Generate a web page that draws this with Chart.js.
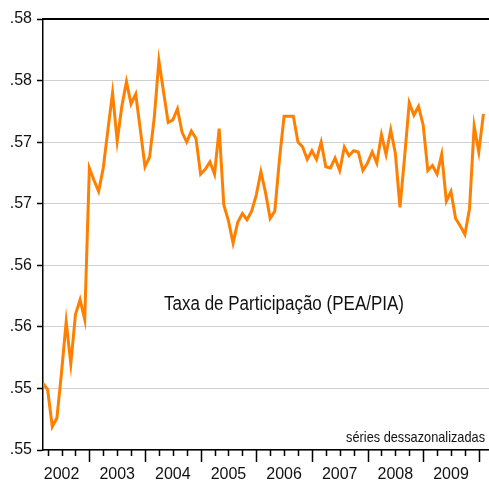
<!DOCTYPE html>
<html>
<head>
<meta charset="utf-8">
<script src="https://cdn.jsdelivr.net/npm/chart.js@4/dist/chart.umd.min.js"></script>
<style>
  html, body { margin: 0; padding: 0; background: #fff; }
  #wrap { width: 489px; height: 483px; }
</style>
</head>
<body>
<div id="wrap"><canvas id="chart"></canvas></div>
<script>
'use strict'

// monthly series, Mar 2002 .. Feb 2010 (seasonally adjusted)
const startYear = 2002
const startMonth = 3
const yearLabels = ['2002', '2003', '2004', '2005', '2006', '2007', '2008', '2009']
const taxa = [
  0.5504, 0.5499, 0.5469, 0.5476, 0.5513, 0.5554, 0.5520, 0.5560, 0.5572, 0.5556,
  0.5679, 0.5669, 0.5660, 0.5679, 0.5710, 0.5740, 0.5701, 0.5729, 0.5749, 0.5731,
  0.5739, 0.5710, 0.5680, 0.5688, 0.5720, 0.5766, 0.5741, 0.5716, 0.5718, 0.5727,
  0.5708, 0.5700, 0.5709, 0.5703, 0.5674, 0.5678, 0.5684, 0.5674, 0.5711, 0.5649,
  0.5636, 0.5618, 0.5635, 0.5642, 0.5637, 0.5644, 0.5657, 0.5676, 0.5659, 0.5638,
  0.5644, 0.5686, 0.5721, 0.5721, 0.5721, 0.5700, 0.5696, 0.5686, 0.5693, 0.5686,
  0.5700, 0.5680, 0.5679, 0.5687, 0.5677, 0.5696, 0.5689, 0.5693, 0.5692, 0.5677,
  0.5683, 0.5692, 0.5683, 0.5706, 0.5690, 0.5710, 0.5691, 0.5647, 0.5688, 0.5732,
  0.5722, 0.5729, 0.5714, 0.5677, 0.5681, 0.5674, 0.5690, 0.5652, 0.5660, 0.5638,
  0.5632, 0.5625, 0.5646, 0.5713, 0.5692, 0.5723
]
const yTickValues = [0.545, 0.550, 0.555, 0.560, 0.565, 0.570, 0.575, 0.580]
const yTickLabels = ['.55', '.55', '.56', '.56', '.57', '.57', '.58', '.58']

const seriesTitle = 'Taxa de Participação (PEA/PIA)'
const seriesNote = 'séries dessazonalizadas'

// months counted from Jan of startYear
const firstM = startMonth - 1
const points = taxa.map((v, i) => ({ x: firstM + i, y: v }))

const FONT = '"Liberation Sans", Arial, sans-serif'

// narrow-looking text: draw a larger font squeezed horizontally
function squeezedText(ctx, text, x, y, size, sx, align, baseline) {
  ctx.save()
  ctx.font = size + 'px ' + FONT
  ctx.textAlign = align
  ctx.textBaseline = baseline
  ctx.translate(x, y)
  ctx.scale(sx, 1)
  ctx.fillText(text, 0, 0)
  ctx.restore()
}

const extras = {
  id: 'extras',
  afterDraw(chart) {
    const { ctx, chartArea, scales } = chart
    const x = scales.x
    ctx.save()
    // x tick marks: long at years, short at quarters
    ctx.strokeStyle = '#000'
    ctx.lineWidth = 1.5
    ctx.beginPath()
    for (let m = 0; m <= x.max; m += 3) {
      if (m < x.min) continue
      const px = Math.round(x.getPixelForValue(m)) + 0.5
      const len = m % 12 === 0 ? 12 : 6
      ctx.moveTo(px, chartArea.bottom)
      ctx.lineTo(px, chartArea.bottom + len)
    }
    ctx.stroke()
    // top frame line
    ctx.lineWidth = 2
    ctx.beginPath()
    ctx.moveTo(chartArea.left, chartArea.top)
    ctx.lineTo(chartArea.right, chartArea.top)
    ctx.stroke()

    ctx.fillStyle = '#111'
    squeezedText(ctx, seriesTitle, 284, 304, 20, 0.85, 'center', 'middle')
    squeezedText(ctx, seriesNote, 485, 442, 15, 0.85, 'right', 'alphabetic')
    ctx.restore()
  }
}

new Chart(document.getElementById('chart'), {
  type: 'line',
  data: {
    datasets: [{
      data: points,
      borderColor: 'rgb(255, 128, 0)',
      borderWidth: 3,
      pointRadius: 0,
      tension: 0,
      fill: false
    }]
  },
  options: {
    responsive: true,
    maintainAspectRatio: false,
    animation: false,
    layout: { padding: { top: 19, right: 0, left: 0, bottom: 0 } },
    plugins: { legend: { display: false }, tooltip: { enabled: false } },
    scales: {
      x: {
        type: 'linear',
        min: firstM,
        max: firstM + 96.2,
        afterFit: s => { s.height = 33 },
        afterBuildTicks: s => {
          const t = []
          for (let m = 6; m <= s.max; m += 12) t.push({ value: m })
          s.ticks = t
        },
        grid: { display: false, drawTicks: false },
        border: { display: true, color: '#000', width: 1.5 },
        ticks: {
          autoSkip: false,
          maxRotation: 0,
          padding: 15,
          color: '#111',
          font: { family: FONT, size: 16 },
          callback: v => yearLabels[Math.floor(v / 12)]
        }
      },
      y: {
        min: yTickValues[0],
        max: yTickValues[yTickValues.length - 1],
        afterFit: s => { s.width = 43 },
        afterBuildTicks: s => { s.ticks = yTickValues.map(v => ({ value: v })) },
        grid: {
          color: '#d0d0d0',
          lineWidth: 1,
          tickLength: 6,
          tickColor: '#000',
          tickWidth: 1.5
        },
        border: { display: true, color: '#000', width: 1.5 },
        ticks: {
          padding: 5,
          color: '#111',
          font: { family: FONT, size: 16 },
          callback: (v, i) => yTickLabels[i]
        }
      }
    }
  },
  plugins: [extras]
})
</script>
</body>
</html>
